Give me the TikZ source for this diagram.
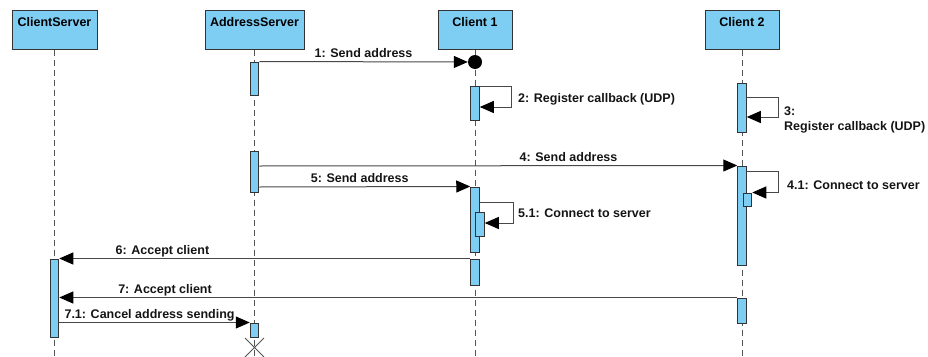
\documentclass[tikz,border=0pt]{standalone}
\usepackage{fontspec}
\setmainfont{Liberation Sans}
\usetikzlibrary{arrows.meta}
\definecolor{lifeblue}{RGB}{126,206,244}
\definecolor{edgegray}{RGB}{51,51,51}
\definecolor{linegray}{RGB}{72,72,72}
\definecolor{dashgray}{RGB}{85,85,85}
\tikzset{
  hdr/.style={draw=edgegray, line width=1pt, fill=lifeblue, inner xsep=2pt, inner ysep=4pt,
    text height=13pt, text depth=18pt, font=\fontsize{12.5}{14}\selectfont\bfseries},
  lifeline/.style={draw=dashgray, line width=1pt, dash pattern=on 6pt off 4pt},
  actbar/.style={draw=edgegray, line width=1pt, fill=lifeblue, minimum width=8.5pt, inner sep=0pt},
  msg/.style={draw=linegray, line width=1pt, -{Triangle[length=14pt,width=12pt,color=black]}},
  lbl/.style={font=\fontsize{12.5}{15}\selectfont\bfseries, text=black!92, inner sep=1pt},
  msglbl/.style={lbl, above=3pt, text depth=0pt},
}
\begin{document}
\begin{tikzpicture}[x=1pt, y=-1pt]
\useasboundingbox (0,0) rectangle (928,356);

% lifeline heads
\node[hdr, minimum width=85pt, minimum height=39pt] (cs) at (54.5,29.5) {ClientServer};
\node[hdr, minimum width=99pt, minimum height=39pt] (as) at (254.5,29.5) {AddressServer};
\node[hdr, minimum width=74pt, minimum height=39pt] (c1) at (475,29.5) {Client 1};
\node[hdr, minimum width=74pt, minimum height=39pt] (c2) at (742,29.5) {Client 2};

% dashed lifelines
\coordinate (csend) at (54.5,357);
\coordinate (asend) at (254.5,357);
\coordinate (c1end) at (475,357);
\coordinate (c2end) at (742,357);
\draw[lifeline] (cs.south) -- (csend);
\draw[lifeline] (as.south) -- (asend);
\draw[lifeline] (c1.south) -- (c1end);
\draw[lifeline] (c2.south) -- (c2end);

% activation bars
\node[actbar, minimum height=33pt] (asa) at (254.5,78.5) {};
\node[actbar, minimum height=34pt] (c1a) at (475,103) {};
\node[actbar, minimum height=49pt] (c2a) at (742,107.5) {};
\node[actbar, minimum height=41pt] (asb) at (254.5,171.5) {};
\node[actbar, minimum height=65pt] (c1b) at (475,219.5) {};
\node[actbar, minimum height=24pt] (c1n) at (480,224) {};
\node[actbar, minimum height=99pt] (c2b) at (742,215.5) {};
\node[actbar, minimum height=13pt] (c2n) at (747.5,199.5) {};
\node[actbar, minimum height=26pt] (c1c) at (475,272) {};
\node[actbar, minimum height=78pt] (csa) at (54.5,298) {};
\node[actbar, minimum height=25pt] (c2c) at (742,310.5) {};
\node[actbar, minimum height=14pt] (asc) at (254.5,330) {};

% found-message target on Client 1
\node[circle, fill=black, minimum size=14pt, inner sep=0pt] (dot) at (475,62) {};

% 1
\draw[msg] (asa.north east) -- node[msglbl, pos=0.5] {1: Send address} (dot.west);
% 2
\draw[msg] ([yshift=-1pt]c1a.north east) -- ++(32,0) |- (c1a.east |- 0,107);
\node[lbl, anchor=west] at (517,99.5) {2: Register callback (UDP)};
% 3
\draw[msg] (c2a.east |- 0,97) -- ++(32,0) |- (c2a.east |- 0,117);
\node[lbl, anchor=north west, align=left] at (783,106) {3:\\Register callback (UDP)};
% 4
\draw[msg] (asb.east |- 0,166) -- node[msglbl, pos=0.647] {4: Send address} (c2b.north west);
% 4.1
\draw[msg] ([yshift=-6pt]c2b.north east) -- ++(32,0) |- (c2n.north east);
\node[lbl, anchor=west] at (786,185) {4.1: Connect to server};
% 5
\draw[msg] (asb.east |- 0,187) -- node[msglbl, pos=0.476] {5: Send address} (c1b.north west);
% 5.1
\draw[msg] (c1b.east |- 0,202) -- (513,202) |- (c1n.east |- 0,223);
\node[lbl, anchor=west] at (517,213) {5.1: Connect to server};
% 6
\draw[msg] (c1c.north west) -- node[msglbl, pos=0.749] {6: Accept client} (csa.north east);
% 7
\draw[msg] (c2c.north west) -- node[msglbl, pos=0.844] {7: Accept client} (csa.east |- c2c.north);
% 7.1
\draw[msg] (csa.east |- asc.north) -- node[msglbl, pos=0.474] {7.1: Cancel address sending} (asc.north west);

% destruction mark
\coordinate (xc) at (254.5,347.5);
\draw[draw=dashgray, line width=1pt] ([shift={(-9.5,-9.5)}]xc) -- ([shift={(9.5,9.5)}]xc)
  ([shift={(-9.5,9.5)}]xc) -- ([shift={(9.5,-9.5)}]xc);
\end{tikzpicture}
\end{document}
